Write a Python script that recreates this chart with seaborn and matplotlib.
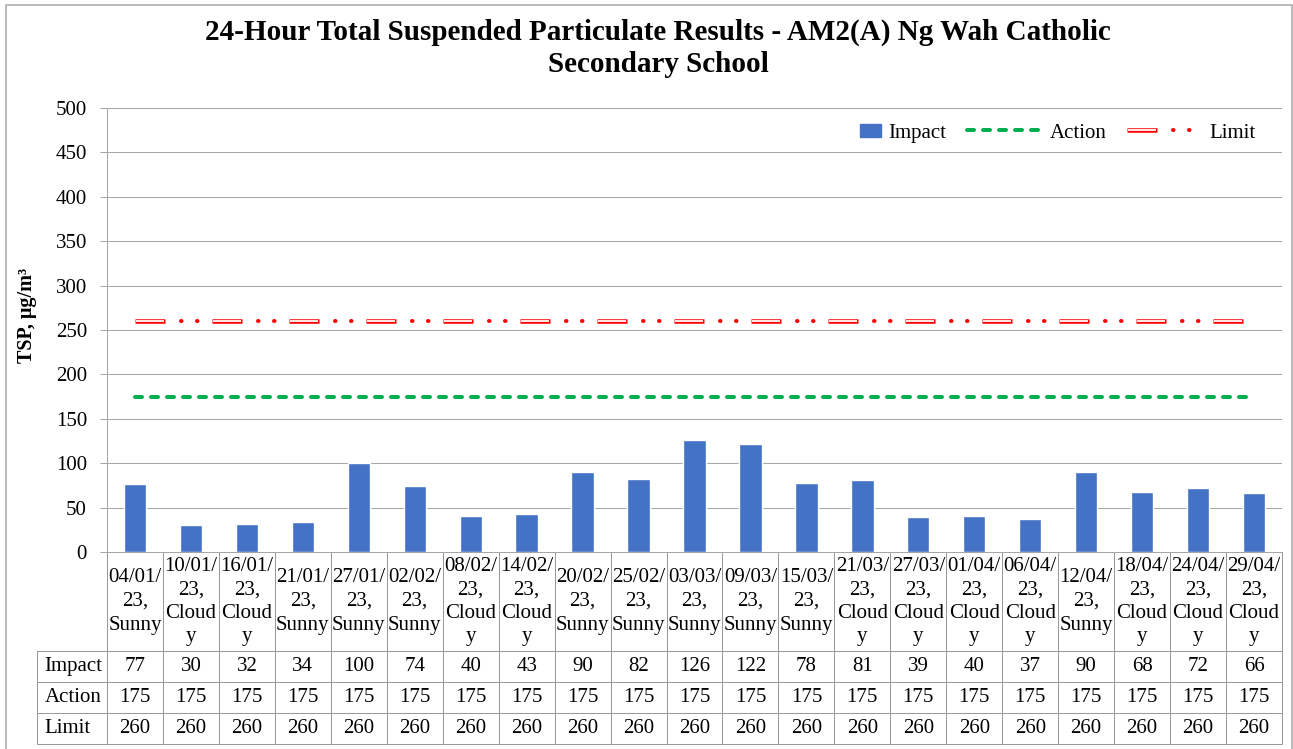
import numpy as np
import pandas as pd
import matplotlib
matplotlib.use("Agg")
import matplotlib.pyplot as plt
import matplotlib.patches as mpatches
from matplotlib.lines import Line2D
from matplotlib.legend_handler import HandlerTuple, HandlerPatch
import seaborn as sns

# data
dates = ["04/01/23", "10/01/23", "16/01/23", "21/01/23", "27/01/23", "02/02/23", "08/02/23",
         "14/02/23", "20/02/23", "25/02/23", "03/03/23", "09/03/23", "15/03/23", "21/03/23",
         "27/03/23", "01/04/23", "06/04/23", "12/04/23", "18/04/23", "24/04/23", "29/04/23"]
weather = ["Sunny", "Cloudy", "Cloudy", "Sunny", "Sunny", "Sunny", "Cloudy",
           "Cloudy", "Sunny", "Sunny", "Sunny", "Sunny", "Sunny", "Cloudy",
           "Cloudy", "Cloudy", "Cloudy", "Sunny", "Cloudy", "Cloudy", "Cloudy"]
impact = [77, 30, 32, 34, 100, 74, 40, 43, 90, 82, 126, 122, 78, 81, 39, 40, 37, 90, 68, 72, 66]
action = [175] * 21
limit = [260] * 21

# header text wrapped the way excel does it
def wrap_label(d, w):
    parts = [d[:6], d[6:] + ","]
    if w == "Cloudy":
        parts += ["Cloud", "y"]
    else:
        parts += [w]
    return "\n".join(parts)

labels = [wrap_label(d, w) for d, w in zip(dates, weather)]
df = pd.DataFrame({"label": labels, "impact": impact})
idx = np.arange(len(dates))

sns.set_style("white")
plt.rcParams["font.family"] = ["Liberation Serif", "DejaVu Serif"]
plt.rcParams["lines.scale_dashes"] = False
plt.rcParams["text.color"] = "black"

W, H = 1293, 749
fig = plt.figure(figsize=(W / 100, H / 100), dpi=100)
x0, x1, ytop, ybot = 107, 1282, 108, 552
ax_w, ax_h = x1 - x0, ybot - ytop
ax = fig.add_axes([x0 / W, 1 - ybot / H, ax_w / W, ax_h / H])

px = 0.72  # px -> pt

sns.barplot(data=df, x="label", y="impact", color="#4472C4", saturation=1, width=0.4, ax=ax, zorder=2)

green = "#00B050"
sns.lineplot(x=idx, y=action, color=green, lw=4 * px, linestyle=(0, (7 * px, 9 * px)),
             dash_capstyle="round", ax=ax, zorder=3)

# limit line: hollow red segment + two dots
period = 77
red_kw = dict(color="#FF0000", lw=4.5 * px, linestyle=(0, (30 * px, (period - 30) * px)), zorder=3)
white_kw = dict(color="white", lw=1.8 * px, linestyle=((period - 1) * px, (28 * px, (period - 28) * px)), zorder=4)
dot_kw = dict(color="#FF0000", lw=4 * px, linestyle=(31 * px, (0.5 * px, 15.5 * px, 0.5 * px, (period - 16.5) * px)),
              dash_capstyle="round", zorder=4)
ax.plot(idx, limit, **red_kw)
ax.plot(idx, limit, **white_kw)
ax.plot(idx, limit, **dot_kw)

ax.set_xlim(-0.5, len(dates) - 0.5)
ax.set_ylim(0, 500)
ax.set_yticks(np.arange(0, 501, 50))
ax.set_xticks([])
ax.set_xlabel("")
ax.set_ylabel("")
ax.set_axisbelow(True)
ax.yaxis.grid(True, color="#a6a6a6", lw=1 * px)
for s in ["top", "right"]:
    ax.spines[s].set_visible(False)
for s in ["left", "bottom"]:
    ax.spines[s].set_color("#a6a6a6")
    ax.spines[s].set_linewidth(1 * px)
ax.tick_params(axis="y", left=True, length=7 * px, width=1 * px, color="#a6a6a6",
               labelcolor="black", pad=13 * px, labelsize=15)

# legend
def small_rect(legend, orig_handle, xdescent, ydescent, width, height, fontsize):
    return mpatches.Rectangle((width - 15 - xdescent, -ydescent + height / 2 - 5), 15, 10)

h_imp = mpatches.Patch(color="#4472C4")
h_act = Line2D([], [], color=green, lw=4 * px, linestyle=(0, (7 * px, 9 * px)), dash_capstyle="round")
h_lim = (Line2D([], [], **{k: v for k, v in red_kw.items() if k != "zorder"}),
         Line2D([], [], **{k: v for k, v in white_kw.items() if k != "zorder"}),
         Line2D([], [], **{k: v for k, v in dot_kw.items() if k != "zorder"}))
fig.legend([h_imp, h_act, h_lim], ["Impact", "Action", "Limit"], ncol=3, frameon=False,
           loc="center right", bbox_to_anchor=(1256 / W, 1 - 133 / H), borderpad=0, borderaxespad=0,
           fontsize=15, handlelength=3.6, handletextpad=0.35, columnspacing=1.0, labelcolor="black",
           handler_map={mpatches.Patch: HandlerPatch(patch_func=small_rect),
                        tuple: HandlerTuple(ndivide=1, pad=0)})

# data table under the axis, sizes in axes fractions (bbox covers the data columns,
# the row label column hangs off to the left)
row_w = (x0 - 39) / ax_w
col_w = 1 / len(dates)
head_h, row_h = 99 / ax_h, 31 / ax_h
tbl_h = head_h + 3 * row_h
table = ax.table(cellText=[[str(v) for v in impact], [str(v) for v in action], [str(v) for v in limit]],
                 rowLabels=["Impact", "Action", "Limit"], colLabels=labels,
                 cellLoc="center", rowLoc="left", colLoc="center",
                 colWidths=[col_w] * len(dates),
                 bbox=[0, -tbl_h, 1, tbl_h])
table.auto_set_font_size(False)
table.set_fontsize(15)
for (r, c), cell in table.get_celld().items():
    cell.set_edgecolor("#999999")
    cell.set_linewidth(1 * px)
    cell.set_height(head_h if r == 0 else row_h)
    cell.set_width(row_w if c == -1 else col_w)
    cell.get_text().set_linespacing(1.33)
    cell.get_text().set_color("black")

# title and y label
fig.text(658 / W, 1 - 48 / H, "24-Hour Total Suspended Particulate Results - AM2(A) Ng Wah Catholic\nSecondary School",
         ha="center", va="center", fontsize=21, fontweight="bold", linespacing=1.25)
fig.text(27 / W, 1 - 316 / H, "TSP, μg/m³", rotation=90, ha="center", va="center", fontsize=14.5, fontweight="bold")

# chart border
fig.patches.append(mpatches.Rectangle((6 / W, -0.1), (1292 - 6) / W, 1.1 - 5 / H, transform=fig.transFigure,
                                      fill=False, edgecolor="#a6a6a6", lw=1.5 * px))

fig.savefig("out.png", dpi=100)
